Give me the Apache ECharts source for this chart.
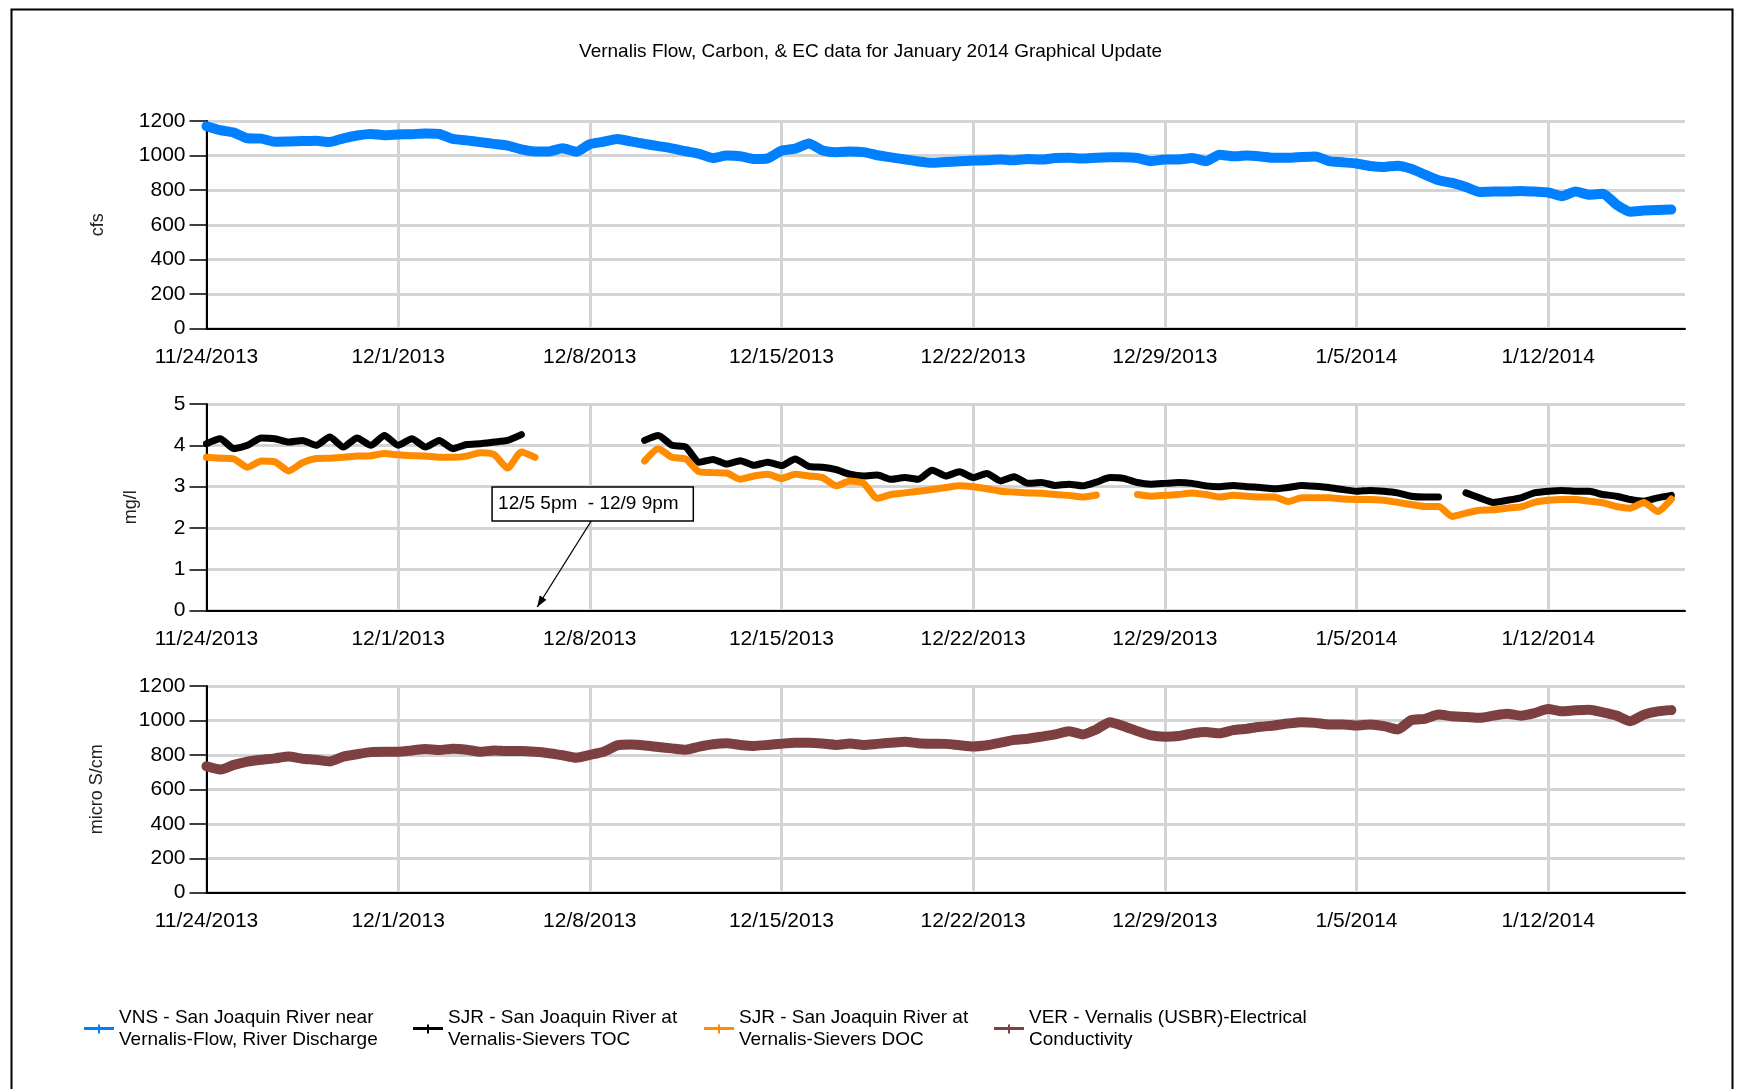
<!DOCTYPE html>
<html>
<head>
<meta charset="utf-8">
<title>Vernalis Flow, Carbon, & EC data</title>
<script src="https://cdn.jsdelivr.net/npm/echarts@6/dist/echarts.min.js"></script>
<style>
  html, body { margin: 0; padding: 0; background: #fff; }
  #chart { width: 1741px; height: 1089px; }
</style>
</head>
<body>
<div id="chart"></div>
<script>
// readings every 12 hours from 11/24/2013 00:00 (x = days since 11/24)
const stepDays = 0.5;
const dateLabels = ['11/24/2013', '12/1/2013', '12/8/2013', '12/15/2013', '12/22/2013', '12/29/2013', '1/5/2014', '1/12/2014'];
const flowTicks = [0, 200, 400, 600, 800, 1000, 1200];
const carbonTicks = [0, 1, 2, 3, 4, 5];
const ecTicks = [0, 200, 400, 600, 800, 1000, 1200];

// VNS flow, cfs
const flow = [
  1170, 1147, 1133, 1100, 1098, 1080, 1082, 1084, 1086, 1078, 1100, 1116, 1125, 1118,
  1122, 1124, 1128, 1125, 1096, 1088, 1078, 1068, 1058, 1036, 1024, 1024, 1042, 1022,
  1066, 1080, 1096, 1082, 1068, 1055, 1042, 1025, 1010, 986, 1000, 996, 980, 984,
  1028, 1040, 1070, 1030, 1020, 1024, 1020, 1002, 990, 978, 966, 958, 963, 967,
  971, 973, 977, 973, 981, 977, 986, 987, 983, 987, 990, 990, 986, 968,
  977, 977, 986, 968, 1005, 996, 1000, 995, 987, 987, 992, 995, 968, 961,
  954, 940, 934, 942, 924, 890, 858, 842, 818, 790, 793, 793, 796, 792,
  787, 765, 792, 774, 779, 716, 676, 682, 686, 688
];
// SJR Sievers TOC, mg/l
const toc = [
  4.04, 4.16, 3.92, 4.00, 4.18, 4.16, 4.08, 4.12, 4.00, 4.20, 3.96, 4.18, 4.00, 4.24,
  4.00, 4.16, 3.96, 4.12, 3.92, 4.02, 4.04, 4.08, 4.12, 4.26, null, null, null, null,
  null, null, null, null, 4.12, 4.24, 4.00, 3.96, 3.59, 3.66, 3.55, 3.63, 3.52, 3.59,
  3.51, 3.67, 3.49, 3.47, 3.41, 3.30, 3.26, 3.28, 3.18, 3.22, 3.18, 3.40, 3.26, 3.36,
  3.22, 3.32, 3.14, 3.24, 3.08, 3.10, 3.03, 3.06, 3.02, 3.11, 3.22, 3.20, 3.10, 3.06,
  3.08, 3.10, 3.08, 3.02, 3.00, 3.03, 3.00, 2.98, 2.95, 2.98, 3.03, 3.01, 2.98, 2.93,
  2.89, 2.91, 2.89, 2.85, 2.77, 2.75, 2.75, null, 2.85, 2.73, 2.62, 2.67, 2.73, 2.85,
  2.89, 2.91, 2.89, 2.89, 2.81, 2.77, 2.69, 2.65, 2.73, 2.79
];
// SJR Sievers DOC, mg/l
const doc = [
  3.71, 3.69, 3.67, 3.47, 3.62, 3.60, 3.38, 3.58, 3.68, 3.69, 3.71, 3.74, 3.75, 3.80,
  3.77, 3.75, 3.74, 3.71, 3.71, 3.74, 3.82, 3.78, 3.45, 3.84, 3.71, null, null, null,
  null, null, null, null, 3.62, 3.92, 3.71, 3.67, 3.36, 3.34, 3.33, 3.18, 3.26, 3.30,
  3.20, 3.30, 3.26, 3.22, 3.02, 3.14, 3.08, 2.72, 2.81, 2.85, 2.89, 2.93, 2.98, 3.02,
  3.00, 2.95, 2.89, 2.87, 2.85, 2.84, 2.81, 2.79, 2.75, 2.80, null, null, 2.81, 2.77,
  2.79, 2.81, 2.85, 2.81, 2.75, 2.79, 2.77, 2.75, 2.75, 2.64, 2.73, 2.73, 2.73, 2.70,
  2.69, 2.69, 2.67, 2.62, 2.57, 2.52, 2.52, 2.28, 2.36, 2.43, 2.44, 2.48, 2.51, 2.62,
  2.67, 2.69, 2.69, 2.65, 2.61, 2.52, 2.48, 2.62, 2.40, 2.70
];
// VER electrical conductivity, micro S/cm
const ec = [
  734, 715, 742, 761, 772, 780, 790, 778, 772, 762, 790, 804, 816, 818,
  818, 826, 834, 828, 836, 830, 818, 826, 822, 822, 818, 810, 798, 784,
  800, 818, 855, 860, 855, 846, 838, 830, 848, 862, 868, 858, 852, 858,
  865, 870, 870, 866, 858, 866, 858, 864, 870, 876, 868, 865, 864, 856,
  849, 856, 871, 887, 894, 906, 919, 938, 919, 948, 990, 967, 938, 913,
  906, 910, 925, 933, 925, 944, 952, 963, 971, 982, 990, 986, 977, 977,
  971, 977, 967, 948, 1001, 1009, 1034, 1024, 1020, 1015, 1028, 1039, 1028, 1043,
  1066, 1053, 1059, 1062, 1047, 1028, 996, 1034, 1053, 1060
];

const gapNote = { text: '12/5 5pm  - 12/9 9pm', box: [10.43, 2.99, 17.78, 2.17], from: [14.05, 2.17], to: [12.08, 0.09] };

const FONT = "'Liberation Sans', Arial, sans-serif";
const names = [
  'VNS - San Joaquin River near\nVernalis-Flow, River Discharge',
  'SJR - San Joaquin River at\nVernalis-Sievers TOC',
  'SJR - San Joaquin River at\nVernalis-Sievers DOC',
  'VER - Vernalis (USBR)-Electrical\nConductivity'
];
const colors = ['#0080ff', '#000000', '#ff8c00', '#7d3f3f'];
const legendLeft = [84, 413, 704, 994];

const toPairs = arr => arr.map((v, i) => [i * stepDays, v]);

function makeX (gi) {
  return {
    type: 'value', gridIndex: gi, min: 0, max: 54, interval: 7,
    axisLine: { show: true, onZero: false, lineStyle: { color: '#000', width: 2 } },
    axisTick: { show: false },
    axisLabel: {
      color: '#000', fontSize: 21, fontFamily: FONT, margin: 18, showMaxLabel: false,
      formatter: v => dateLabels[Math.round(v / 7)] || ''
    },
    splitLine: { show: true, showMaxLine: false, lineStyle: { color: '#d4d4d4', width: 3 } }
  };
}
function makeY (gi, ticks, name, gap) {
  return {
    type: 'value', gridIndex: gi,
    min: ticks[0], max: ticks[ticks.length - 1], interval: ticks[1] - ticks[0],
    name: name, nameLocation: 'middle', nameGap: gap,
    nameTextStyle: { color: '#222', fontSize: 18, fontFamily: FONT },
    axisLine: { show: true, lineStyle: { color: '#000', width: 2 } },
    axisTick: { show: true, length: 17, lineStyle: { color: '#000', width: 1.5 } },
    axisLabel: { color: '#000', fontSize: 21, fontFamily: FONT, margin: 21, formatter: v => String(v) },
    splitLine: { show: true, lineStyle: { color: '#d4d4d4', width: 3 } }
  };
}
function makeLine (i, data, gi, width) {
  return {
    name: names[i], type: 'line', xAxisIndex: gi, yAxisIndex: gi,
    data: toPairs(data), showSymbol: false, symbol: 'none', connectNulls: false,
    smooth: 0.2,
    lineStyle: { color: colors[i], width: width, join: 'round', cap: 'round' },
    itemStyle: { color: colors[i] },
    emphasis: { disabled: true }, z: 3
  };
}

const chart = echarts.init(document.getElementById('chart'));
const option = {
  animation: false,
  backgroundColor: '#fff',
  title: {
    text: 'Vernalis Flow, Carbon, & EC data for January 2014 Graphical Update',
    left: 'center', top: 37,
    textStyle: { color: '#000', fontSize: 19, fontWeight: 'normal', fontFamily: FONT }
  },
  legend: names.map((n, i) => ({
    data: [n], left: legendLeft[i], top: 1007, padding: 0,
    itemWidth: 30, itemHeight: 14, selectedMode: false,
    icon: 'path://M0,5.5 L14,5.5 L14,3 L16,3 L16,5.5 L30,5.5 L30,8.5 L16,8.5 L16,12 L14,12 L14,8.5 L0,8.5 Z',
    itemStyle: { borderWidth: 0 },
    textStyle: { color: '#000', fontSize: 19, lineHeight: 22, fontFamily: FONT }
  })),
  grid: [
    { left: 206.5, right: 56, top: 121, height: 207.6 },
    { left: 206.5, right: 56, top: 404, height: 206.7 },
    { left: 206.5, right: 56, top: 686, height: 206.7 }
  ],
  xAxis: [makeX(0), makeX(1), makeX(2)],
  yAxis: [
    makeY(0, flowTicks, 'cfs', 99),
    makeY(1, carbonTicks, 'mg/l', 66),
    makeY(2, ecTicks, 'micro S/cm', 100)
  ],
  series: [
    makeLine(0, flow, 0, 10),
    makeLine(1, toc, 1, 7),
    makeLine(2, doc, 1, 7),
    makeLine(3, ec, 2, 10)
  ]
};
chart.setOption(option);

// annotation box + arrow for the TOC/DOC gap, placed in the carbon grid's data space
const px = pt => chart.convertToPixel({ gridIndex: 1 }, pt);
const tl = px([gapNote.box[0], gapNote.box[1]]);
const br = px([gapNote.box[2], gapNote.box[3]]);
const a0 = px(gapNote.from);
const a1 = px(gapNote.to);
const ang = Math.atan2(a1[1] - a0[1], a1[0] - a0[0]);
const hl = 11, hw = 4;
const head = [
  a1,
  [a1[0] - hl * Math.cos(ang) + hw * Math.sin(ang), a1[1] - hl * Math.sin(ang) - hw * Math.cos(ang)],
  [a1[0] - hl * Math.cos(ang) - hw * Math.sin(ang), a1[1] - hl * Math.sin(ang) + hw * Math.cos(ang)]
];
chart.setOption({
  graphic: [
    { type: 'rect', left: 9, top: 7, silent: true, z: 0,
      shape: { width: 1721, height: 1110 }, style: { fill: 'none', stroke: '#000', lineWidth: 2 } },
    { type: 'line', silent: true, z: 10,
      shape: { x1: a0[0], y1: a0[1], x2: a1[0], y2: a1[1] }, style: { stroke: '#000', lineWidth: 1.3 } },
    { type: 'polygon', silent: true, z: 10, shape: { points: head }, style: { fill: '#000' } },
    { type: 'rect', silent: true, z: 10,
      shape: { x: tl[0], y: tl[1], width: br[0] - tl[0], height: br[1] - tl[1] },
      style: { fill: '#fff', stroke: '#000', lineWidth: 1.5 } },
    { type: 'text', silent: true, z: 11, x: tl[0] + 6, y: (tl[1] + br[1]) / 2,
      style: { text: gapNote.text, fill: '#000', fontSize: 19, fontFamily: FONT, verticalAlign: 'middle' } }
  ]
});
</script>
</body>
</html>
